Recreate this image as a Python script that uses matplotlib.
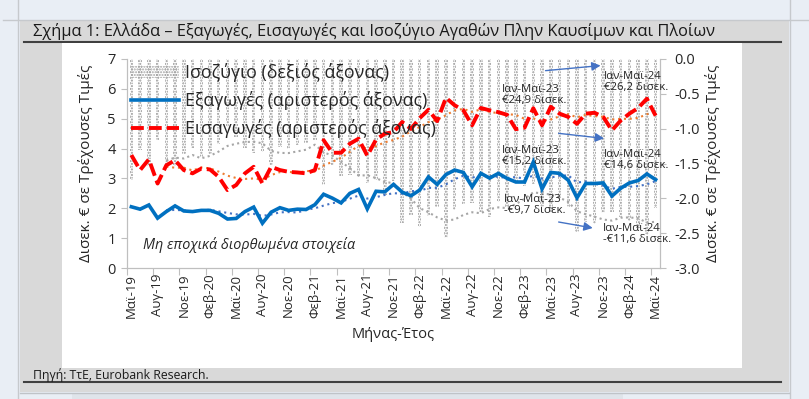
import numpy as np
import pandas as pd
import matplotlib
matplotlib.use("Agg")
import matplotlib.pyplot as plt
from matplotlib.patches import Rectangle, Patch
from matplotlib.lines import Line2D

plt.rcParams['font.family'] = ['Open Sans', 'DejaVu Sans']
plt.rcParams['hatch.linewidth'] = 1.0

# ---------------- data ----------------
months = ["Μαϊ-19", "Αυγ-19", "Νοε-19", "Φεβ-20", "Μαϊ-20", "Αυγ-20", "Νοε-20",
          "Φεβ-21", "Μαϊ-21", "Αυγ-21", "Νοε-21", "Φεβ-22", "Μαϊ-22", "Αυγ-22",
          "Νοε-22", "Φεβ-23", "Μαϊ-23", "Αυγ-23", "Νοε-23", "Φεβ-24", "Μαϊ-24"]

exports = [2.05, 1.97, 2.11, 1.67, 1.89, 2.08, 1.91, 1.89, 1.93, 1.93,
           1.83, 1.64, 1.66, 1.89, 2.04, 1.50, 1.87, 2.02, 1.93, 1.97,
           1.96, 2.12, 2.47, 2.34, 2.18, 2.50, 2.63, 1.98, 2.57, 2.55,
           2.80, 2.54, 2.42, 2.61, 3.05, 2.80, 3.13, 3.28, 3.20, 2.72,
           3.17, 3.01, 3.17, 3.00, 2.88, 2.88, 3.55, 2.65, 3.20, 3.17,
           2.94, 2.35, 2.83, 2.83, 2.85, 2.41, 2.67, 2.85, 2.93, 3.15,
           2.96]

imports = [3.78, 3.28, 3.64, 2.83, 3.44, 3.61, 3.28, 3.17, 3.33, 3.30,
           3.05, 2.61, 2.78, 3.17, 3.39, 2.83, 3.39, 3.28, 3.22, 3.20,
           3.17, 3.28, 4.28, 3.86, 3.86, 4.16, 4.33, 3.76, 4.30, 4.50,
           4.55, 4.89, 4.66, 5.02, 5.30, 4.92, 5.70, 5.45, 5.28, 4.78,
           5.36, 5.28, 5.22, 5.13, 4.65, 4.70, 5.35, 4.78, 5.40, 5.17,
           5.06, 4.83, 5.17, 5.20, 5.06, 4.61, 4.94, 5.17, 5.36, 5.67,
           5.10]

balance = [-1.73, -1.31, -1.53, -1.16, -1.55, -1.53, -1.37, -1.28, -1.40, -1.37,
           -1.22, -0.97, -1.12, -1.28, -1.35, -1.33, -1.52, -1.26, -1.29, -1.23,
           -1.21, -1.16, -1.81, -1.52, -1.68, -1.66, -1.70, -1.78, -1.73, -1.95,
           -1.75, -2.35, -2.24, -2.41, -2.25, -2.12, -2.57, -2.17, -2.08, -2.06,
           -2.19, -2.27, -2.05, -2.13, -1.77, -1.82, -1.80, -2.13, -2.20, -2.00,
           -2.12, -2.48, -2.34, -2.37, -2.21, -2.20, -2.27, -2.32, -2.43, -2.52,
           -2.14]

ma_window = 5  # Excel moving-average trendlines

# ---------------- figure ----------------
W, H = 809, 399
fig = plt.figure(figsize=(W / 100, H / 100), dpi=100)
fig.patch.set_facecolor('#e9eef5')


def fx(x):
    return x / W


def fy(y):
    return 1 - y / H


def frect(x0, y0, x1, y1, color, z=0):
    fig.add_artist(Rectangle((fx(x0), fy(y1)), (x1 - x0) / W, (y1 - y0) / H,
                             transform=fig.transFigure, facecolor=color,
                             edgecolor='none', zorder=z))


def fline(x0, y0, x1, y1, color, lw, z=1):
    fig.add_artist(Line2D([fx(x0), fx(x1)], [fy(y0), fy(y1)],
                          transform=fig.transFigure, color=color, lw=lw, zorder=z))


# page panels
frect(20, 20, 789, 392, '#d9d9d9', z=0)
frect(72, 393, 623, 399, '#dfe4ea', z=0)
fline(18, 0, 18, 399, '#c6c9cd', 1.0)
fline(3, 19.5, 809, 19.5, '#c6c9cd', 1.0)
fline(789.5, 0, 789.5, 399, '#c6c9cd', 1.0)
fline(20, 392.5, 789, 392.5, '#bfc3c8', 1.0)
fline(24, 42, 781, 42, '#404040', 1.5, z=1)
fline(24, 382, 781, 382, '#404040', 1.5, z=1)
frect(62, 43, 742, 368, 'white', z=2)

narrow = ['Liberation Sans Narrow', 'Open Sans', 'DejaVu Sans']
fig.text(fx(33), fy(31), "Σχήμα 1: Ελλάδα – Εξαγωγές, Εισαγωγές και Ισοζύγιο Αγαθών Πλην Καυσίμων και Πλοίων",
         fontsize=11.8, va='center', ha='left', color='#1a1a1a', family=narrow, zorder=5)
fig.text(fx(33), fy(375), "Πηγή: ΤτΕ, Eurobank Research.", fontsize=8.8, va='center',
         ha='left', color='#1a1a1a', family=narrow, zorder=5)

# ---------------- axes ----------------
ax_left, ax_right, ax_top, ax_bottom = 127, 660, 59, 268
ax = fig.add_axes([fx(ax_left), fy(ax_bottom), (ax_right - ax_left) / W, (ax_bottom - ax_top) / H])
ax2 = ax.twinx()
ax.set_zorder(4)
ax2.set_zorder(3)
ax.patch.set_visible(False)
ax2.patch.set_visible(False)

n = len(exports)
x = np.arange(n)
exp_s = pd.Series(exports)
imp_s = pd.Series(imports)
bal_s = pd.Series(balance)

gray_c = '#8f8f8f'
blue_c = '#0070c0'
red_c = '#ff0000'

# balance bars (right axis)
ax2.bar(x, balance, width=0.4, facecolor='none', edgecolor=gray_c, linewidth=0,
        hatch='......', zorder=1)
ax2.plot(x, bal_s.rolling(ma_window).mean(), color='#a6a6a6', lw=1.5, ls=(0, (1, 1.6)), zorder=2)

# lines (left axis)
ax.plot(x, exports, color=blue_c, lw=2.6, solid_joinstyle='miter', zorder=3)
ax.plot(x, imports, color=red_c, lw=2.8, ls=(0, (3.3, 1.3)), zorder=3)
ax.plot(x, exp_s.rolling(ma_window).mean(), color='#4472c4', lw=1.5, ls=(0, (1, 1.8)), zorder=2)
ax.plot(x, imp_s.rolling(ma_window).mean(), color='#ed7d31', lw=1.5, ls=(0, (1, 1.8)), zorder=2)

ax.set_xlim(-0.5, n - 0.5)
ax.set_ylim(0, 7)
ax2.set_ylim(-3, 0)

spine_c = '#bfbfbf'
text_c = '#262626'
for a in (ax, ax2):
    for s in a.spines.values():
        s.set_color(spine_c)
    a.spines['top'].set_visible(False)

ax.set_yticks(range(0, 8))
ax.tick_params(axis='y', length=4, color=spine_c, labelsize=10.5, labelcolor=text_c, pad=4)
ax2.set_yticks(np.arange(-3.0, 0.01, 0.5))
ax2.set_yticklabels([f"{v:.1f}" for v in np.arange(-3.0, 0.01, 0.5)])
ax2.tick_params(axis='y', length=4, color=spine_c, labelsize=10.5, labelcolor=text_c, pad=6)

ax.set_xticks(np.arange(-0.5, n, 3))
ax.set_xticklabels([])
ax.set_xticks(np.arange(0, n, 3), minor=True)
ax.set_xticklabels(months, minor=True, rotation=90, fontsize=9.5, color=text_c)
ax.tick_params(axis='x', which='major', length=5, color=spine_c)
ax.tick_params(axis='x', which='minor', length=0, pad=4)

ax.set_ylabel("Δισεκ. € σε Τρέχουσες Τιμές", fontsize=11, color=text_c, labelpad=10)
ax2.set_ylabel("Δισεκ. € σε Τρέχουσες Τιμές", fontsize=11, color=text_c, rotation=90, labelpad=4)
ax.set_xlabel("Μήνας-Έτος", fontsize=10.5, color=text_c, labelpad=6)

# legend
handles = [Patch(facecolor='none', edgecolor='#a6a6a6', linewidth=0, hatch='......'),
           Line2D([], [], color=blue_c, lw=2.6),
           Line2D([], [], color=red_c, lw=2.8, ls=(0, (3.3, 1.3)))]
labels = ["Ισοζύγιο (δεξιός άξονας)", "Εξαγωγές (αριστερός άξονας)", "Εισαγωγές (αριστερός άξονας)"]
ax.legend(handles, labels, loc='upper left', frameon=False, fontsize=12.8, handlelength=2.7,
          handletextpad=0.3, labelspacing=0.5, borderaxespad=0.1, borderpad=0.15,
          labelcolor=text_c)

ax.text(1.3, 0.78, "Μη εποχικά διορθωμένα στοιχεία", fontsize=10.4, style='italic',
        color=text_c, va='center', ha='left')

# annotations
ann_c = '#4472c4'
ann_fs = 8.2
txt = dict(fontsize=ann_fs, color=text_c, ha='left', va='center', linespacing=1.0)
ax.text(42.4, 5.78, "Ιαν-Μαϊ-23\n€24,9 δισεκ.", **txt)
ax.text(54.1, 6.24, "Ιαν-Μαϊ-24\n€26,2 δισεκ.", **txt)
ax.text(42.4, 3.74, "Ιαν-Μαϊ-23\n€15,2 δισεκ.", **txt)
ax.text(54.1, 3.61, "Ιαν-Μαϊ-24\n€14,6 δισεκ.", **txt)
ax.text(42.6, 2.11, "Ιαν-Μαϊ-23\n-€9,7 δισεκ.", **txt)
ax.text(54.0, 1.14, "Ιαν-Μαϊ-24\n-€11,6 δισεκ.", **txt)

arrow = dict(arrowstyle='-|>', color=ann_c, lw=1.0, mutation_scale=13, shrinkA=0, shrinkB=0)
ax.annotate("", xy=(53.7, 6.78), xytext=(47.4, 6.61), arrowprops=arrow)
ax.annotate("", xy=(54.1, 4.34), xytext=(48.9, 4.51), arrowprops=arrow)
ax.annotate("", xy=(52.8, 1.34), xytext=(48.9, 1.54), arrowprops=arrow)

fig.savefig("out.png", dpi=100, facecolor=fig.get_facecolor())
